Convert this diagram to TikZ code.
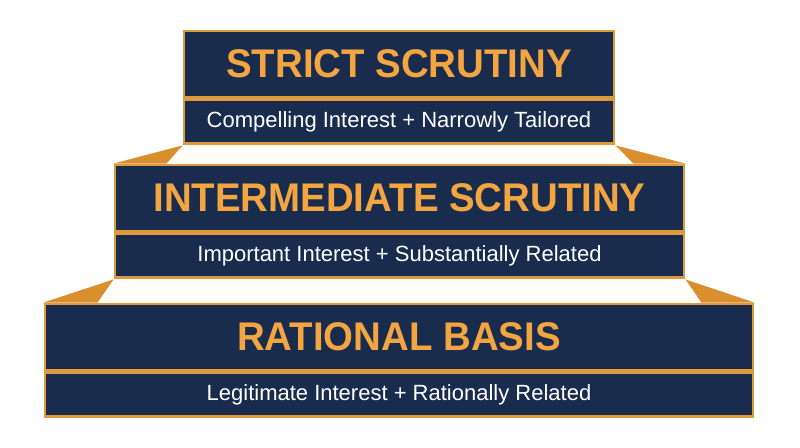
\documentclass[tikz,border=0pt]{standalone}
\usepackage{fontspec}
\setmainfont{Liberation Sans}
\newfontfamily\tierfont[FakeStretch=0.96]{Liberation Sans Bold}
\usetikzlibrary{positioning,backgrounds,calc}
\definecolor{navy}{HTML}{1A2C4E}
\definecolor{goldline}{HTML}{DC9A3C}
\definecolor{goldtext}{HTML}{F2A541}
\definecolor{goldside}{HTML}{D98F2E}
\definecolor{stepface}{HTML}{FFFDF8}
\tikzset{
    tiername/.style={draw=goldline, line width=2.2pt, fill=navy, text=goldtext,
        font=\tierfont\fontsize{30}{30}\selectfont, minimum height=49.5pt, inner sep=0pt},
    tiertest/.style={draw=goldline, line width=2.2pt, fill=navy, text=white,
        font=\fontsize{16.5}{16.5}\selectfont, minimum height=33pt, inner sep=0pt},
    side/.style={fill=goldside},
}
\begin{document}
\begin{tikzpicture}[x=0.75pt,y=-0.75pt]%
        \useasboundingbox (0,0) rectangle (800,447);
        \node[tiername, minimum width=322.5pt] (strict) at (399,64) {STRICT SCRUTINY};
        \node[tiertest, minimum width=322.5pt, below=0pt of strict] (strictsub) {Compelling Interest + Narrowly Tailored};
        \node[tiername, minimum width=426.75pt] (inter) at (399.5,198) {INTERMEDIATE SCRUTINY};
        \node[tiertest, minimum width=426.75pt, below=0pt of inter] (intersub) {Important Interest + Substantially Related};
        \node[tiername, minimum width=531pt] (rational) at (399,337) {RATIONAL BASIS};
        \node[tiertest, minimum width=531pt, below=0pt of rational] (rationalsub) {Legitimate Interest + Rationally Related};
        \begin{scope}[on background layer]
        \fill[stepface] (strictsub.south west) -- (strictsub.south east) -- ($(inter.north east)+(-52,0)$) -- ($(inter.north west)+(53,0)$) -- cycle;
        \fill[side] (strictsub.south west) -- (inter.north west) -- ++(53,0) -- cycle;
        \fill[side] (strictsub.south east) -- (inter.north east) -- ++(-52,0) -- cycle;
        \fill[stepface] (intersub.south west) -- (intersub.south east) -- ($(rational.north east)+(-53,0)$) -- ($(rational.north west)+(54,0)$) -- cycle;
        \fill[side] (intersub.south west) -- (rational.north west) -- ++(54,0) -- cycle;
        \fill[side] (intersub.south east) -- (rational.north east) -- ++(-53,0) -- cycle;
        \end{scope}
    \end{tikzpicture}
\end{document}
